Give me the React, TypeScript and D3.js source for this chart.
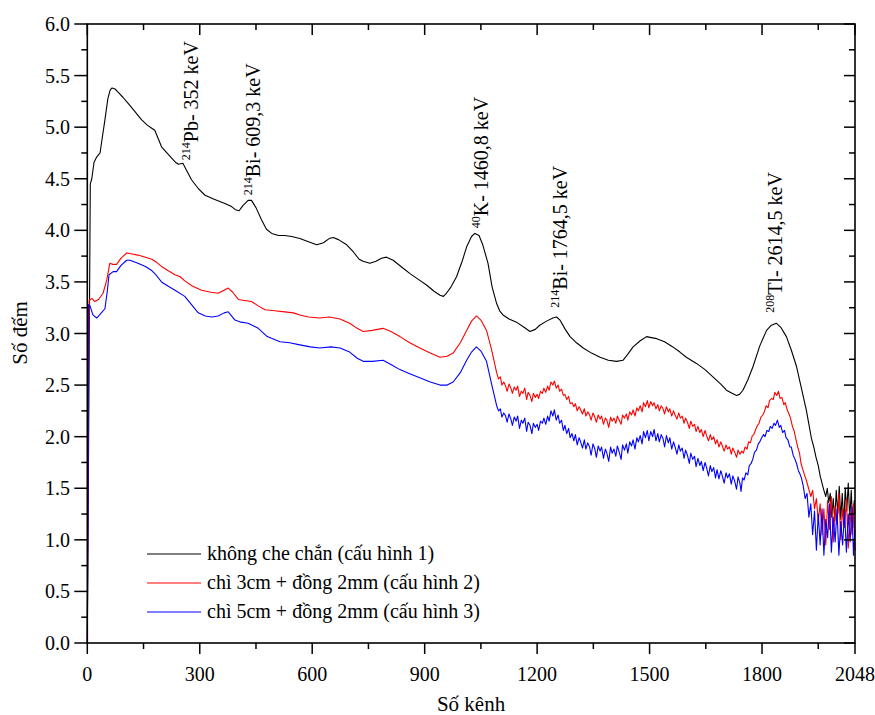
import { useEffect, useRef } from "react";
import * as d3 from "d3";

// channel, counts (log scale units)
const blackSeries: [number, number][] = [
  [0, 0], [8, 4.45], [12, 4.5], [18, 4.66], [25, 4.71], [34, 4.75], [40, 4.9], [47, 5.07], [55, 5.28], [61, 5.36],
  [66, 5.38], [74, 5.37], [82, 5.34], [95, 5.29], [109, 5.23], [125, 5.16], [145, 5.07], [160, 5.02], [172, 4.99],
  [180, 4.97], [188, 4.9], [198, 4.81], [210, 4.76], [225, 4.7], [235, 4.66], [243, 4.64], [255, 4.65], [265, 4.58],
  [278, 4.49], [295, 4.41], [314, 4.34], [340, 4.3], [367, 4.26], [385, 4.23], [395, 4.2], [405, 4.19], [415, 4.24],
  [429, 4.29], [438, 4.29], [450, 4.22], [465, 4.1], [478, 4.01], [492, 3.97], [510, 3.95], [527, 3.95], [545, 3.94],
  [567, 3.92], [590, 3.89], [612, 3.86], [630, 3.88], [645, 3.92], [656, 3.93], [670, 3.91], [692, 3.86], [710, 3.79],
  [725, 3.72], [736, 3.7], [754, 3.68], [770, 3.7], [785, 3.73], [798, 3.74], [816, 3.71], [840, 3.64], [861, 3.58],
  [885, 3.52], [905, 3.47], [925, 3.41], [941, 3.37], [950, 3.36], [958, 3.39], [970, 3.45], [985, 3.55], [1000, 3.7],
  [1012, 3.84], [1025, 3.94], [1034, 3.97], [1045, 3.95], [1055, 3.86], [1069, 3.68], [1080, 3.45], [1092, 3.29],
  [1100, 3.22], [1109, 3.18], [1125, 3.14], [1145, 3.11], [1165, 3.06], [1181, 3.02], [1195, 3.04], [1207, 3.08],
  [1225, 3.12], [1242, 3.15], [1252, 3.16], [1261, 3.13], [1275, 3.04], [1288, 2.97], [1305, 2.91], [1323, 2.86],
  [1345, 2.81], [1368, 2.77], [1390, 2.74], [1412, 2.73], [1429, 2.74], [1442, 2.8], [1456, 2.87], [1475, 2.93],
  [1492, 2.97], [1505, 2.96], [1519, 2.95], [1540, 2.92], [1562, 2.87], [1581, 2.82], [1598, 2.77], [1625, 2.71],
  [1648, 2.65], [1669, 2.58], [1690, 2.51], [1705, 2.45], [1720, 2.42], [1732, 2.4], [1740, 2.41], [1749, 2.45],
  [1762, 2.55], [1776, 2.68], [1794, 2.88], [1812, 3.03], [1825, 3.08], [1838, 3.1], [1850, 3.06], [1865, 2.97],
  [1878, 2.84], [1892, 2.68], [1905, 2.47], [1918, 2.26], [1926, 2.1], [1932, 1.98], [1938, 1.9], [1944, 1.8],
  [1950, 1.72], [1955, 1.62], [1960, 1.55], [1965, 1.48], [1970, 1.42], [1974, 1.5], [1978, 1.36], [1982, 1.45],
  [1986, 1.22], [1990, 1.4], [1994, 1.18], [1998, 1.48], [2002, 1.25], [2006, 1.52], [2010, 1.2], [2014, 1.45],
  [2018, 1.15], [2022, 1.5], [2026, 1.28], [2030, 1.55], [2034, 1.2], [2038, 1.48], [2042, 1.12], [2046, 1.38],
  [2048, 1.25],
];

const redSeries: [number, number][] = [
  [0, 0], [3, 2.6], [5, 3.32], [12, 3.34], [20, 3.31], [30, 3.33], [42, 3.39], [52, 3.52], [60, 3.68], [68, 3.67],
  [78, 3.67], [90, 3.73], [105, 3.78], [120, 3.77], [135, 3.76], [155, 3.74], [172, 3.72], [185, 3.69], [198, 3.65],
  [215, 3.61], [234, 3.57], [248, 3.55], [260, 3.51], [280, 3.46], [305, 3.42], [330, 3.4], [349, 3.39], [365, 3.42],
  [376, 3.44], [388, 3.4], [403, 3.33], [420, 3.32], [438, 3.31], [455, 3.27], [474, 3.23], [500, 3.22], [527, 3.21],
  [550, 3.2], [567, 3.18], [590, 3.16], [620, 3.15], [645, 3.16], [674, 3.14], [700, 3.1], [720, 3.05], [736, 3.02],
  [760, 3.03], [789, 3.05], [810, 3.02], [834, 2.97], [860, 2.91], [887, 2.86], [915, 2.81], [941, 2.77], [960, 2.78],
  [976, 2.81], [995, 2.91], [1012, 3.03], [1025, 3.12], [1038, 3.17], [1050, 3.13], [1065, 3.03], [1078, 2.85],
  [1092, 2.62], [1097, 2.56], [1102, 2.58], [1106, 2.5], [1111, 2.53], [1116, 2.49], [1120, 2.44], [1125, 2.51],
  [1130, 2.47], [1134, 2.42], [1139, 2.48], [1144, 2.45], [1148, 2.49], [1153, 2.39], [1158, 2.44], [1162, 2.42],
  [1167, 2.47], [1172, 2.36], [1176, 2.43], [1181, 2.4], [1186, 2.34], [1190, 2.42], [1195, 2.38], [1200, 2.41],
  [1204, 2.37], [1209, 2.44], [1214, 2.42], [1218, 2.47], [1223, 2.43], [1228, 2.49], [1232, 2.45], [1237, 2.53],
  [1242, 2.5], [1246, 2.54], [1251, 2.47], [1256, 2.5], [1260, 2.44], [1265, 2.46], [1270, 2.4], [1274, 2.41],
  [1279, 2.36], [1284, 2.39], [1288, 2.32], [1293, 2.33], [1298, 2.29], [1302, 2.32], [1307, 2.25], [1312, 2.29],
  [1316, 2.26], [1321, 2.22], [1326, 2.27], [1330, 2.2], [1335, 2.24], [1340, 2.21], [1344, 2.16], [1349, 2.23],
  [1354, 2.19], [1358, 2.14], [1363, 2.21], [1368, 2.17], [1372, 2.2], [1377, 2.12], [1382, 2.18], [1386, 2.16],
  [1391, 2.09], [1396, 2.19], [1400, 2.15], [1405, 2.18], [1410, 2.13], [1414, 2.2], [1419, 2.16], [1424, 2.12],
  [1428, 2.21], [1433, 2.18], [1438, 2.22], [1442, 2.16], [1447, 2.24], [1452, 2.21], [1456, 2.26], [1461, 2.2],
  [1466, 2.28], [1470, 2.25], [1475, 2.3], [1480, 2.24], [1484, 2.33], [1489, 2.29], [1494, 2.35], [1498, 2.28],
  [1503, 2.34], [1508, 2.3], [1512, 2.33], [1517, 2.27], [1522, 2.31], [1526, 2.25], [1531, 2.3], [1536, 2.27],
  [1540, 2.22], [1545, 2.29], [1550, 2.24], [1554, 2.27], [1559, 2.2], [1564, 2.25], [1568, 2.21], [1573, 2.17],
  [1578, 2.23], [1582, 2.18], [1587, 2.2], [1592, 2.13], [1596, 2.18], [1601, 2.14], [1606, 2.08], [1610, 2.15],
  [1615, 2.1], [1620, 2.12], [1624, 2.05], [1629, 2.1], [1634, 2.04], [1638, 2.07], [1643, 2.0], [1648, 2.06],
  [1652, 2.01], [1657, 1.96], [1662, 2.02], [1666, 1.97], [1671, 2.0], [1676, 1.93], [1680, 1.97], [1685, 1.9],
  [1690, 1.95], [1694, 1.91], [1699, 1.86], [1704, 1.92], [1708, 1.88], [1713, 1.9], [1718, 1.83], [1722, 1.89],
  [1727, 1.85], [1732, 1.8], [1736, 1.87], [1741, 1.83], [1746, 1.86], [1750, 1.84], [1755, 1.9], [1760, 1.88],
  [1764, 1.95], [1769, 1.94], [1774, 2.01], [1778, 2.02], [1783, 2.07], [1788, 2.11], [1792, 2.13], [1797, 2.19],
  [1802, 2.21], [1806, 2.24], [1811, 2.3], [1816, 2.28], [1820, 2.35], [1825, 2.37], [1830, 2.36], [1834, 2.43],
  [1839, 2.4], [1844, 2.44], [1848, 2.37], [1853, 2.38], [1858, 2.31], [1862, 2.33], [1867, 2.26], [1872, 2.22],
  [1876, 2.18], [1881, 2.1], [1886, 2.05], [1890, 1.98], [1895, 1.9], [1900, 1.84], [1904, 1.74], [1909, 1.68],
  [1914, 1.62], [1918, 1.58], [1924, 1.5], [1930, 1.42], [1935, 1.48], [1940, 1.3], [1945, 1.4], [1950, 1.18],
  [1955, 1.35], [1960, 1.05], [1965, 1.3], [1970, 0.95], [1975, 1.38], [1980, 1.1], [1985, 1.42], [1990, 0.98],
  [1995, 1.32], [2000, 1.15], [2005, 1.45], [2010, 1.0], [2015, 1.3], [2020, 1.12], [2025, 1.4], [2030, 0.92],
  [2035, 1.28], [2040, 1.05], [2044, 1.35], [2048, 0.9],
];

const blueSeries: [number, number][] = [
  [0, 0], [2, 1.42], [3, 3.28], [7, 3.27], [15, 3.18], [25, 3.15], [35, 3.19], [47, 3.24], [53, 3.4], [58, 3.57],
  [69, 3.6], [78, 3.6], [90, 3.66], [105, 3.71], [114, 3.71], [135, 3.68], [155, 3.65], [172, 3.61], [185, 3.56],
  [198, 3.5], [215, 3.46], [234, 3.42], [260, 3.36], [278, 3.28], [296, 3.2], [315, 3.17], [332, 3.16], [349, 3.17],
  [365, 3.2], [376, 3.21], [394, 3.13], [410, 3.11], [429, 3.1], [456, 3.05], [480, 2.97], [514, 2.92], [540, 2.91],
  [567, 2.89], [595, 2.87], [620, 2.86], [650, 2.87], [674, 2.86], [700, 2.82], [720, 2.76], [736, 2.73], [760, 2.73],
  [789, 2.74], [810, 2.7], [834, 2.65], [860, 2.61], [887, 2.57], [915, 2.53], [941, 2.5], [960, 2.5], [976, 2.53],
  [995, 2.62], [1012, 2.74], [1025, 2.82], [1038, 2.87], [1050, 2.83], [1065, 2.73], [1078, 2.52], [1092, 2.3],
  [1097, 2.25], [1102, 2.27], [1106, 2.19], [1111, 2.23], [1116, 2.2], [1120, 2.14], [1125, 2.22], [1130, 2.17],
  [1134, 2.11], [1139, 2.19], [1144, 2.15], [1148, 2.2], [1153, 2.08], [1158, 2.16], [1162, 2.13], [1167, 2.18],
  [1172, 2.05], [1176, 2.14], [1181, 2.11], [1186, 2.03], [1190, 2.13], [1195, 2.09], [1200, 2.12], [1204, 2.06],
  [1209, 2.15], [1214, 2.13], [1218, 2.18], [1223, 2.12], [1228, 2.2], [1232, 2.15], [1237, 2.25], [1242, 2.2],
  [1246, 2.26], [1251, 2.16], [1256, 2.21], [1260, 2.13], [1265, 2.16], [1270, 2.06], [1274, 2.11], [1279, 2.03],
  [1284, 2.08], [1288, 1.99], [1293, 2.03], [1298, 1.96], [1302, 2.02], [1307, 1.92], [1312, 1.99], [1316, 1.95],
  [1321, 1.89], [1326, 1.97], [1330, 1.88], [1335, 1.94], [1340, 1.9], [1344, 1.82], [1349, 1.93], [1354, 1.88],
  [1358, 1.8], [1363, 1.91], [1368, 1.86], [1372, 1.9], [1377, 1.79], [1382, 1.88], [1386, 1.84], [1391, 1.76],
  [1396, 1.9], [1400, 1.84], [1405, 1.88], [1410, 1.81], [1414, 1.91], [1419, 1.85], [1424, 1.78], [1428, 1.92],
  [1433, 1.87], [1438, 1.93], [1442, 1.84], [1447, 1.95], [1452, 1.91], [1456, 1.97], [1461, 1.88], [1466, 1.99],
  [1470, 1.95], [1475, 2.01], [1480, 1.93], [1484, 2.05], [1489, 1.99], [1494, 2.06], [1498, 1.96], [1503, 2.05],
  [1508, 2.0], [1512, 2.07], [1517, 1.96], [1522, 2.03], [1526, 1.95], [1531, 2.02], [1536, 1.98], [1540, 1.9],
  [1545, 2.01], [1550, 1.94], [1554, 1.99], [1559, 1.88], [1564, 1.95], [1568, 1.9], [1573, 1.83], [1578, 1.92],
  [1582, 1.86], [1587, 1.89], [1592, 1.79], [1596, 1.87], [1601, 1.82], [1606, 1.74], [1610, 1.84], [1615, 1.78],
  [1620, 1.81], [1624, 1.71], [1629, 1.79], [1634, 1.72], [1638, 1.76], [1643, 1.67], [1648, 1.75], [1652, 1.7],
  [1657, 1.62], [1662, 1.72], [1666, 1.66], [1671, 1.7], [1676, 1.6], [1680, 1.68], [1685, 1.59], [1690, 1.67],
  [1694, 1.62], [1699, 1.55], [1704, 1.65], [1708, 1.6], [1713, 1.64], [1718, 1.54], [1722, 1.62], [1727, 1.57],
  [1732, 1.49], [1736, 1.61], [1741, 1.55], [1744, 1.47], [1748, 1.6], [1752, 1.58], [1757, 1.65], [1762, 1.63],
  [1766, 1.72], [1771, 1.74], [1776, 1.79], [1780, 1.85], [1785, 1.87], [1790, 1.93], [1794, 1.95], [1799, 1.99],
  [1804, 2.02], [1808, 2.0], [1813, 2.06], [1818, 2.05], [1822, 2.1], [1827, 2.08], [1832, 2.13], [1836, 2.11],
  [1841, 2.16], [1846, 2.09], [1850, 2.11], [1855, 2.04], [1860, 2.06], [1864, 1.99], [1869, 1.97], [1874, 1.9],
  [1878, 1.9], [1883, 1.82], [1888, 1.78], [1892, 1.74], [1897, 1.67], [1902, 1.63], [1905, 1.6], [1910, 1.52],
  [1915, 1.4], [1920, 1.45], [1925, 1.22], [1930, 1.35], [1935, 1.05], [1940, 1.28], [1945, 0.9], [1950, 1.25],
  [1955, 0.95], [1960, 1.3], [1965, 0.85], [1970, 1.2], [1975, 1.02], [1980, 1.35], [1985, 0.88], [1990, 1.22],
  [1995, 0.98], [2000, 1.3], [2005, 0.85], [2010, 1.18], [2015, 0.95], [2020, 1.28], [2025, 0.88], [2030, 1.25],
  [2035, 0.98], [2040, 1.32], [2044, 0.85], [2048, 1.1],
];

const legendLabels = [
  "không che chắn (cấu hình 1)",
  "chì 3cm + đồng 2mm (cấu hình 2)",
  "chì 5cm + đồng 2mm (cấu hình 3)",
];
const seriesColors = ["#000000", "#ff0000", "#0000ff"];

const xTicks = [0, 300, 600, 900, 1200, 1500, 1800, 2048];
const xMinorTicks = [150, 450, 750, 1050, 1350, 1650, 1950];
const yTicks = [0, 0.5, 1, 1.5, 2, 2.5, 3, 3.5, 4, 4.5, 5, 5.5, 6];

// peak labels: isotope, mass number, energy text, channel where label sits, counts at label foot
const peakIsotopes = ["Pb", "Bi", "K", "Bi", "Tl"];
const peakMass = ["214", "214", "40", "214", "208"];
const peakEnergy = ["- 352 keV", "- 609,3 keV", "- 1460,8 keV", "- 1764,5 keV", "- 2614,5 keV"];
const peakChannel = [296, 461, 1069, 1280, 1854];
const peakFoot = [4.68, 4.34, 4.02, 3.25, 3.2];

const serif = "Liberation Serif, Tinos, Times New Roman, DejaVu Serif, serif";

export default function App() {
  const ref = useRef<SVGSVGElement>(null);

  useEffect(() => {
    const svg = d3.select(ref.current);
    svg.selectAll("*").remove();

    const left = 87.3,
      right = 855,
      top = 24,
      bottom = 643;

    const x = d3.scaleLinear().domain([0, 2048]).range([left, right]);
    const y = d3.scaleLinear().domain([0, 6]).range([bottom, top]);

    svg.append("rect").attr("width", 875).attr("height", 715).attr("fill", "#fff");

    // series
    const line = d3
      .line<[number, number]>()
      .x((d) => x(d[0]))
      .y((d) => y(d[1]));

    [blackSeries, redSeries, blueSeries].forEach((s, i) => {
      svg
        .append("path")
        .datum(s)
        .attr("d", line)
        .attr("fill", "none")
        .attr("stroke", seriesColors[i])
        .attr("stroke-width", 1.1)
        .attr("stroke-linejoin", "round");
    });

    // frame
    svg
      .append("rect")
      .attr("x", left)
      .attr("y", top)
      .attr("width", right - left)
      .attr("height", bottom - top)
      .attr("fill", "none")
      .attr("stroke", "#000")
      .attr("stroke-width", 1.6);

    const major = 11,
      minor = 6;
    const ticks = svg.append("g").attr("stroke", "#000").attr("stroke-width", 1.5);

    xTicks.forEach((t) => {
      ticks.append("line").attr("x1", x(t)).attr("x2", x(t)).attr("y1", bottom).attr("y2", bottom + major);
      ticks.append("line").attr("x1", x(t)).attr("x2", x(t)).attr("y1", top).attr("y2", top + major);
    });
    xMinorTicks.forEach((t) => {
      ticks.append("line").attr("x1", x(t)).attr("x2", x(t)).attr("y1", bottom).attr("y2", bottom + minor);
      ticks.append("line").attr("x1", x(t)).attr("x2", x(t)).attr("y1", top).attr("y2", top + minor);
    });
    yTicks.forEach((t, i) => {
      ticks.append("line").attr("x1", left - major - 2).attr("x2", left).attr("y1", y(t)).attr("y2", y(t));
      ticks.append("line").attr("x1", right - major).attr("x2", right).attr("y1", y(t)).attr("y2", y(t));
      if (i < yTicks.length - 1) {
        const m = t + 0.25;
        ticks.append("line").attr("x1", left - minor).attr("x2", left).attr("y1", y(m)).attr("y2", y(m));
        ticks.append("line").attr("x1", right - minor).attr("x2", right).attr("y1", y(m)).attr("y2", y(m));
      }
    });

    const labels = svg.append("g").style("font-family", serif).attr("fill", "#000");

    // tick labels
    labels
      .append("g")
      .selectAll("text")
      .data(xTicks)
      .enter()
      .append("text")
      .attr("x", (d) => x(d))
      .attr("y", 681)
      .attr("text-anchor", "middle")
      .attr("font-size", 20)
      .text((d) => String(d));

    labels
      .append("g")
      .selectAll("text")
      .data(yTicks)
      .enter()
      .append("text")
      .attr("x", 70)
      .attr("y", (d) => y(d) + 7)
      .attr("text-anchor", "end")
      .attr("font-size", 20)
      .text((d) => d3.format(".1f")(d));

    // axis titles
    labels
      .append("text")
      .attr("x", 471)
      .attr("y", 711)
      .attr("text-anchor", "middle")
      .attr("font-size", 21)
      .text("Số kênh");

    labels
      .append("text")
      .attr("transform", "translate(27,333) rotate(-90)")
      .attr("text-anchor", "middle")
      .attr("font-size", 21)
      .text("Số đếm");

    // peak annotations
    peakIsotopes.forEach((iso, i) => {
      const t = labels
        .append("text")
        .attr("transform", `translate(${x(peakChannel[i])},${y(peakFoot[i])}) rotate(-90)`)
        .attr("font-size", 20);
      t.append("tspan").attr("dy", -8).attr("font-size", 12).text(peakMass[i]);
      t.append("tspan").attr("dy", 8).text(iso + peakEnergy[i]);
    });

    // legend
    legendLabels.forEach((label, i) => {
      const ly = 554 + i * 29;
      svg
        .append("line")
        .attr("x1", 147)
        .attr("x2", 201)
        .attr("y1", ly)
        .attr("y2", ly)
        .attr("stroke", seriesColors[i])
        .attr("stroke-width", 1.2);
      labels
        .append("text")
        .attr("x", 207)
        .attr("y", ly + 6)
        .attr("font-size", 20)
        .text(label);
    });
  }, []);

  return (
    <svg
      ref={ref}
      width={875}
      height={715}
      style={{ position: "absolute", left: 0, top: 0, fontFamily: serif }}
    />
  );
}
